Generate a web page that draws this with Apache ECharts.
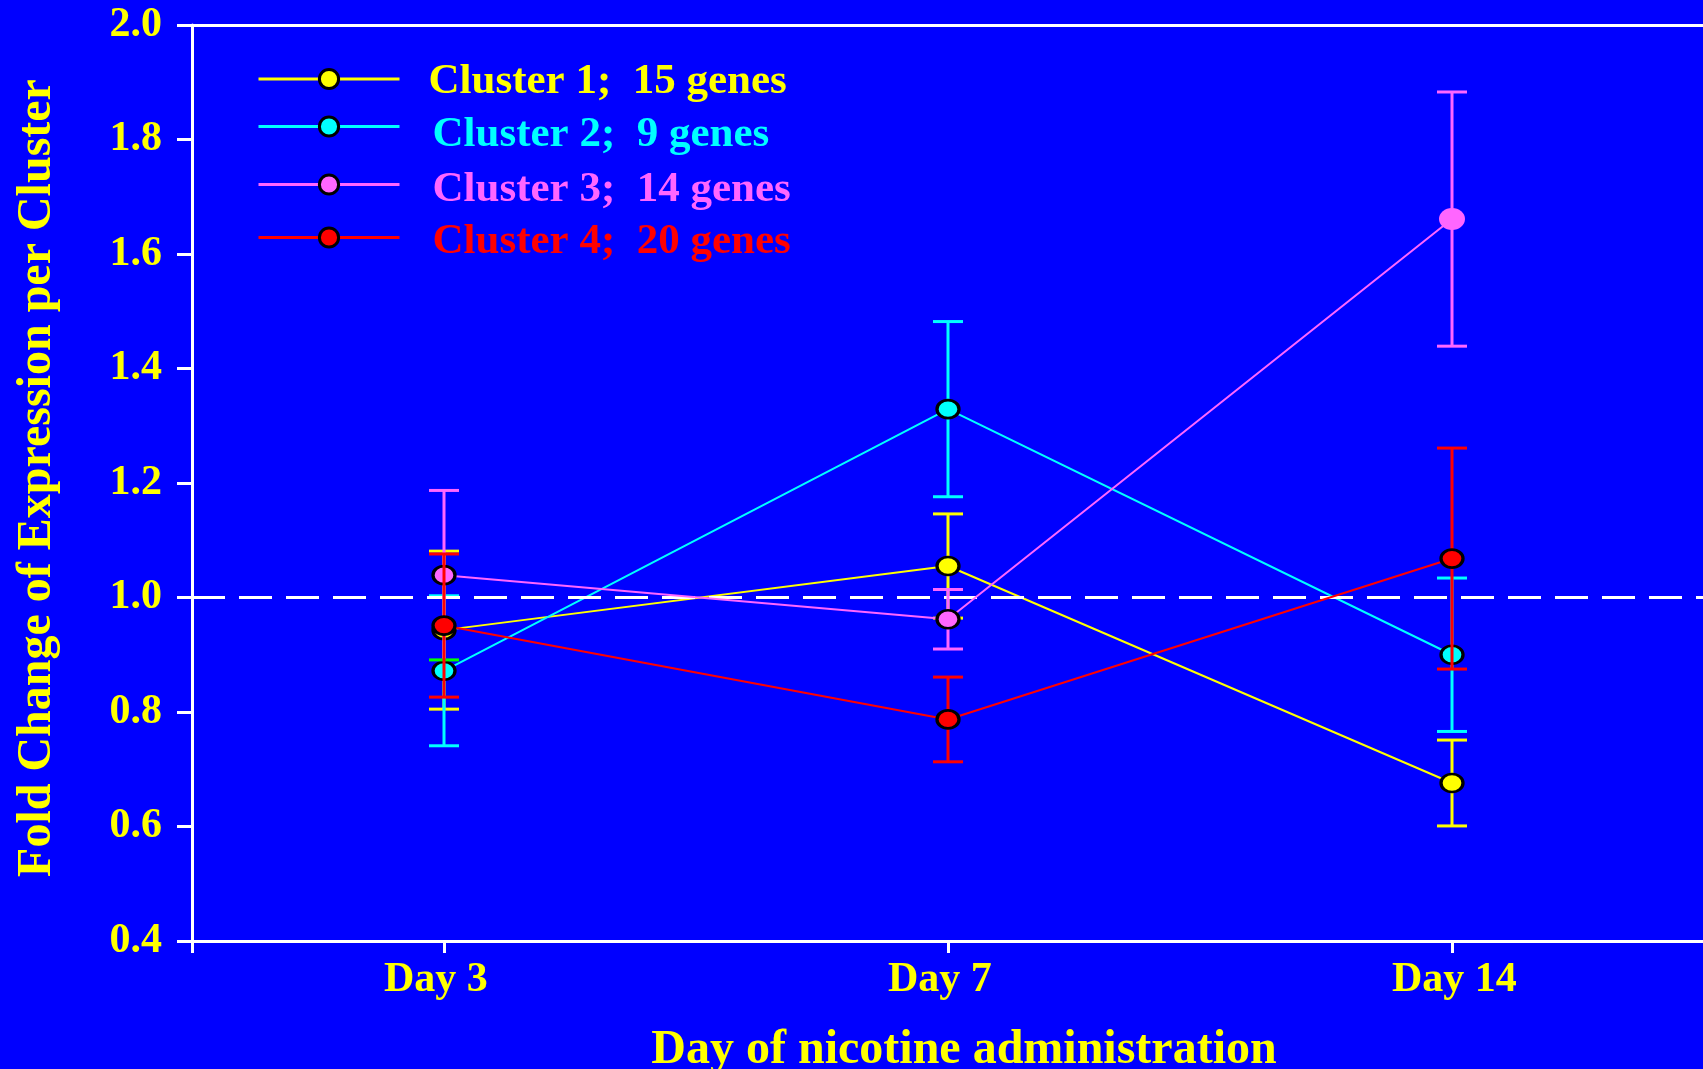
<!DOCTYPE html>
<html>
<head>
<meta charset="utf-8">
<script src="https://cdn.jsdelivr.net/npm/echarts@6/dist/echarts.min.js"></script>
<style>
html, body { margin: 0; padding: 0; background: #0000ff; }
#chart { width: 1703px; height: 1069px; }
</style>
</head>
<body>
<div id="chart"></div>
<script>
// ---------- data ----------
const categories = ['Day 3', 'Day 7', 'Day 14'];
const seriesNames = ['Cluster 1;  15 genes', 'Cluster 2;  9 genes', 'Cluster 3;  14 genes', 'Cluster 4;  20 genes'];
const cluster1Mean = [0.943, 1.055, 0.676];
const cluster1Err  = [0.138, 0.091, 0.075];
const cluster2Mean = [0.872, 1.329, 0.900];
const cluster2Err  = [0.131, 0.153, 0.134];
const cluster3Mean = [1.039, 0.962, 1.661];
const cluster3Err  = [0.148, 0.052, 0.222];
const cluster4Mean = [0.951, 0.787, 1.068];
const cluster4Err  = [0.125, 0.074, 0.193];
const yMin = 0.4;
const yMax = 2.0;
const yStep = 0.2;
const referenceLevel = 1.0;
const xTitle = 'Day of nicotine administration';
const yTitle = 'Fold Change of Expression per Cluster';

// ---------- styling ----------
const FONT = '"Liberation Serif", "Times New Roman", serif';
const YELLOW = '#ffff00';
const colors = ['#ffff00', '#00ffff', '#ff66ff', '#ff0000'];
const means = [cluster1Mean, cluster2Mean, cluster3Mean, cluster4Mean];
const errs = [cluster1Err, cluster2Err, cluster3Err, cluster4Err];
const legendTops = [55, 97, 158, 212];
const legendPadLeft = [24, 28, 28, 28];
const legendSpacer = [48, 59, 53, 51];

function errorSeries(i) {
  const color = colors[i];
  return {
    type: 'custom',
    name: 'err' + i,
    z: 1 + 2 * i,
    silent: true,
    data: means[i].map((m, k) => [k, m - errs[i][k], m + errs[i][k]]),
    encode: { x: 0, y: [1, 2] },
    renderItem: function (params, api) {
      const k = api.value(0);
      const lo = api.coord([k, api.value(1)]);
      const hi = api.coord([k, api.value(2)]);
      const hw = 15;
      const st = { stroke: color, lineWidth: 3 };
      // the reference draws the lower cap of cluster 3 at Day 3 in green
      const lowSt = (i === 2 && k === 0) ? { stroke: '#00ff00', lineWidth: 3 } : st;
      return {
        type: 'group',
        children: [
          { type: 'line', shape: { x1: lo[0], y1: lo[1], x2: hi[0], y2: hi[1] }, style: st },
          { type: 'line', shape: { x1: hi[0] - hw, y1: hi[1], x2: hi[0] + hw, y2: hi[1] }, style: st },
          { type: 'line', shape: { x1: lo[0] - hw, y1: lo[1], x2: lo[0] + hw, y2: lo[1] }, style: lowSt }
        ]
      };
    }
  };
}

function lineSeries(i) {
  const s = {
    type: 'line',
    name: seriesNames[i],
    z: 2 + 2 * i,
    data: means[i].map((m, k) => {
      if (i === 2 && k === 2) {
        return { value: m, symbolSize: [26, 22], itemStyle: { borderWidth: 0 } };
      }
      return m;
    }),
    symbol: 'circle',
    symbolSize: [22, 18],
    showAllSymbol: true,
    lineStyle: { color: colors[i], width: 2 },
    itemStyle: { color: colors[i], borderColor: '#000000', borderWidth: 3 },
    emphasis: { disabled: true },
    animation: false
  };
  if (i === 0) {
    s.markLine = {
      silent: true,
      symbol: 'none',
      label: { show: false },
      lineStyle: { color: '#ffffff', type: [33, 14], width: 3 },
      data: [{ yAxis: referenceLevel }],
      animation: false
    };
  }
  return s;
}

const series = [];
for (let i = 0; i < 4; i++) {
  series.push(errorSeries(i));
  series.push(lineSeries(i));
}

const chart = echarts.init(document.getElementById('chart'), null, { renderer: 'canvas' });
chart.setOption({
  backgroundColor: '#0000ff',
  animation: false,
  grid: { left: 192, top: 25, width: 1512, height: 916, containLabel: false, outerBoundsMode: 'none' },
  legend: seriesNames.map((n, i) => ({
    data: [n],
    left: 257,
    top: legendTops[i],
    padding: 0,
    itemWidth: 141,
    itemHeight: 24,
    selectedMode: false,
    lineStyle: { width: 3 },
    itemStyle: { borderColor: '#000000', borderWidth: 3 },
    formatter: name => '{s| }{t|' + name + '}',
    textStyle: {
      color: colors[i], fontSize: 43, fontWeight: 'bold', fontFamily: FONT,
      rich: {
        s: { width: 0, height: legendSpacer[i], lineHeight: legendSpacer[i], fontSize: 43 },
        t: {
          color: colors[i], fontSize: 43, fontWeight: 'bold', fontFamily: FONT,
          verticalAlign: 'bottom',
          padding: [0, 0, 0, legendPadLeft[i]]
        }
      }
    }
  })),
  xAxis: [
    {
      type: 'category',
      data: categories,
      boundaryGap: true,
      position: 'bottom',
      axisLine: { show: true, onZero: false, lineStyle: { color: '#ffffff', width: 3 } },
      axisTick: { show: true, alignWithLabel: true, length: 12, lineStyle: { color: '#ffffff', width: 3 } },
      axisLabel: {
        margin: 18,
        align: 'center',
        formatter: v => '{t|' + v + '}',
        rich: { t: { width: 120, align: 'left', color: YELLOW, fontSize: 42, fontWeight: 'bold', fontFamily: FONT } }
      },
      splitLine: { show: false },
      name: xTitle,
      nameLocation: 'middle',
      nameGap: 86,
      nameTextStyle: { color: YELLOW, fontSize: 48, fontWeight: 'bold', fontFamily: FONT, padding: [0, 0, 0, 32] }
    },
    {
      type: 'category',
      data: categories,
      position: 'top',
      axisLine: { show: true, lineStyle: { color: '#ffffff', width: 3 } },
      axisTick: { show: false },
      axisLabel: { show: false },
      splitLine: { show: false }
    },
    {
      type: 'value',
      min: 0,
      max: 1,
      interval: 1,
      position: 'bottom',
      axisLine: { show: false },
      axisTick: { show: true, length: 12, lineStyle: { color: '#ffffff', width: 3 } },
      axisLabel: { show: false },
      splitLine: { show: false }
    }
  ],
  yAxis: {
    type: 'value',
    min: yMin,
    max: yMax,
    interval: yStep,
    axisLine: { show: true, onZero: false, lineStyle: { color: '#ffffff', width: 3 } },
    axisTick: { show: true, inside: false, length: 15, lineStyle: { color: '#ffffff', width: 3 } },
    axisLabel: {
      color: YELLOW, fontSize: 42, fontWeight: 'bold', fontFamily: FONT, margin: 30,
      formatter: v => v.toFixed(1)
    },
    splitLine: { show: false },
    name: yTitle,
    nameLocation: 'middle',
    nameRotate: 90,
    nameGap: 130,
    nameTextStyle: { color: YELLOW, fontSize: 48, fontWeight: 'bold', fontFamily: FONT, padding: [0, 0, 0, 10] }
  },
  series: series
});
</script>
</body>
</html>
